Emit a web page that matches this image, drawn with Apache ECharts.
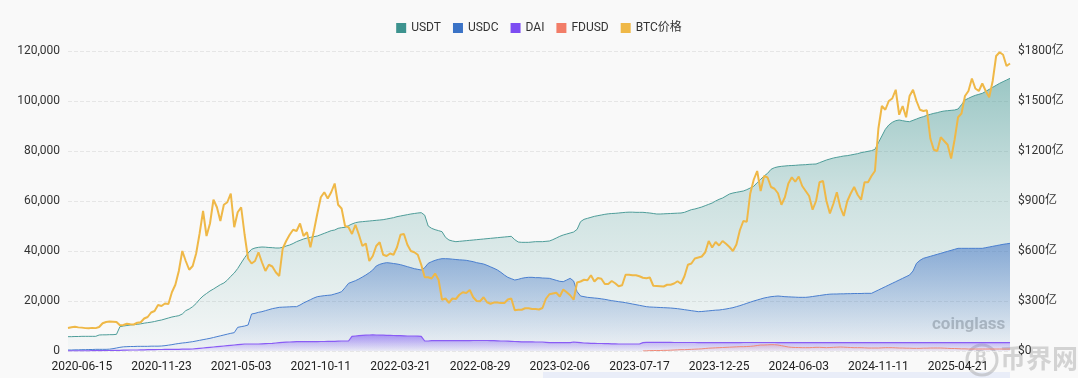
<!DOCTYPE html>
<html>
<head>
<meta charset="utf-8">
<script src="https://cdn.jsdelivr.net/npm/echarts@6/dist/echarts.min.js"></script>
<style>
  html, body { margin: 0; padding: 0; background: #f9f9f9; }
  #chart { width: 1078px; height: 378px; }
</style>
</head>
<body>
<div id="chart"></div>
<script>
// weekly samples, first week 2020-05-18
const startWeek = '2020-05-18'

// BTC price, USD (left axis)
const btc = [
  9200, 9500, 9700, 9450, 9350, 9150, 9100, 9250, 9150, 9600,
  11100, 11600, 11800, 11700, 11600, 10300, 10400, 10900, 10700, 10600,
  11300, 11500, 13000, 13600, 15400, 16000, 18400, 18000, 19000, 18800,
  23500, 26500, 32000, 40000, 36000, 32500, 34000, 39000, 47000, 56000,
  46000, 51000, 60500, 57500, 52000, 58500, 59500, 63000, 49500, 55500,
  57500, 46500, 37000, 35000, 36000, 39500, 35500, 32000, 34500, 33800,
  31500, 30000, 41000, 44000, 46500, 48500, 48000, 51000, 46000, 47500,
  41500, 48000, 55000, 61500, 63500, 61000, 63500, 67000, 58500, 57000,
  50000, 49500, 46800, 50500, 46500, 42000, 43000, 36000, 38000, 42000,
  43500, 38500, 38000, 39000, 38500, 41500, 46500, 46800, 42500, 40000,
  39500, 38500, 34500, 29500, 29500, 29000, 31000, 28500, 20500, 21000,
  19300, 21000, 20800, 22500, 23500, 23200, 24400, 21500, 20000, 19900,
  21500, 19500, 18900, 19400, 19400, 19200, 19200, 20600, 21000, 16300,
  16500, 16500, 17100, 17100, 16800, 16800, 16600, 17200, 20900, 22700,
  23000, 23300, 21800, 24600, 23500, 22300, 20500, 27400, 27800, 28500,
  28300, 30300, 27800, 29200, 28900, 26800, 26800, 28000, 27100, 25900,
  26300, 30500, 30500, 30300, 30300, 29900, 29300, 29100, 29400, 26100,
  26000, 25900, 25800, 26500, 26500, 27000, 27900, 26900, 29900, 34500,
  35000, 37000, 37400, 37800, 39500, 44000, 41400, 43600, 42200, 44000,
  42900, 41600, 40000, 42600, 48300, 52000, 51700, 63000, 68500, 72000,
  64000, 70000, 69400, 65600, 64900, 63100, 58500, 61500, 67000, 69500,
  67700, 69800, 66000, 64000, 62000, 56500, 60000, 67500, 68000, 60000,
  55000, 58900, 63500, 57500, 54000, 59900, 63000, 65600, 62500, 60500,
  67500, 67500, 70000, 72000, 89000, 98000, 96500, 100000, 101000, 104500,
  94500, 98000, 93500, 102000, 104500, 100000, 96500, 96000, 96300, 85000,
  80500, 80000, 85500, 84000, 82500, 77000, 84500, 93500, 95000, 102000,
  104000, 109000, 105000, 104000, 107000, 104000, 101500, 108000, 118000, 119500,
  118500, 114000, 115000
]

// stablecoin market caps, 亿 USD (right axis)
const usdt = [
  86, 86, 87, 87, 88, 88, 88, 88, 88, 96,
  97, 97, 98, 98, 100, 146, 150, 153, 156, 158,
  160, 163, 167, 170, 173, 177, 182, 186, 192, 198,
  204, 208, 212, 222, 242, 252, 266, 285, 310, 330,
  345, 360, 372, 385, 398, 408, 425, 448, 468, 495,
  528, 560, 588, 610, 618, 622, 624, 623, 621, 620,
  618, 618, 622, 630, 636, 645, 656, 664, 672, 678,
  682, 686, 690, 698, 706, 714, 722, 726, 736, 740,
  742, 752, 762, 770, 774, 776, 778, 780, 782, 784,
  786, 788, 792, 796, 800, 806, 810, 814, 818, 822,
  825, 828, 830, 815, 750, 736, 728, 722, 716, 682,
  666, 660, 656, 658, 660, 662, 664, 666, 668, 670,
  672, 674, 676, 678, 680, 682, 684, 686, 688, 668,
  654, 652, 652, 652, 654, 656, 656, 656, 658, 660,
  668, 678, 688, 696, 702, 708, 714, 730, 776, 790,
  796, 802, 808, 812, 816, 820, 823, 825, 826, 828,
  830, 832, 833, 833, 832, 832, 832, 830, 828, 825,
  822, 822, 823, 824, 825, 826, 827, 828, 832, 840,
  848, 852, 858, 864, 872, 880, 888, 900, 910, 918,
  930, 942, 948, 952, 956, 960, 968, 978, 988, 1010,
  1030, 1050, 1066, 1090, 1100, 1105, 1108, 1110, 1112, 1113,
  1114, 1116, 1117, 1118, 1120, 1121, 1122, 1130, 1138, 1146,
  1152, 1158, 1162, 1166, 1170, 1172, 1176, 1180, 1184, 1190,
  1194, 1198, 1202, 1210, 1250, 1290, 1330, 1356, 1372, 1382,
  1386, 1382, 1378, 1376, 1384, 1392, 1400, 1406, 1414, 1420,
  1426, 1430, 1436, 1440, 1442, 1444, 1446, 1452, 1478, 1506,
  1516, 1526, 1534, 1540, 1546, 1558, 1570, 1582, 1594, 1606,
  1616, 1626, 1636
]

const usdc = [
  6, 6, 7, 7, 8, 8, 9, 9, 10, 10,
  10, 10, 11, 14, 18, 22, 25, 26, 27, 27,
  28, 28, 28, 28, 29, 29, 29, 30, 32, 35,
  38, 42, 45, 48, 50, 53, 56, 60, 64, 68,
  72, 76, 81, 86, 91, 96, 101, 106, 110, 142,
  146, 150, 156, 222, 226, 232, 236, 242, 248, 254,
  258, 262, 263, 264, 265, 266, 266, 276, 288, 298,
  308, 318, 326, 329, 332, 334, 336, 342, 348, 356,
  380, 406, 414, 422, 432, 444, 456, 470, 486, 510,
  520, 526, 530, 528, 525, 522, 518, 512, 506, 500,
  494, 490, 486, 500, 526, 536, 544, 550, 554, 554,
  553, 551, 549, 547, 546, 544, 540, 536, 530, 526,
  522, 514, 505, 496, 486, 472, 456, 442, 434, 426,
  430, 436, 440, 442, 442, 440, 440, 438, 437, 436,
  430, 424, 418, 416, 426, 436, 420, 356, 330, 326,
  322, 320, 318, 316, 313, 310, 306, 302, 299, 296,
  293, 290, 286, 282, 278, 274, 270, 266, 264, 263,
  262, 261, 260, 259, 258, 256, 254, 251, 248, 245,
  242, 239, 236, 237, 239, 241, 243, 245, 246, 249,
  252, 256, 260, 266, 272, 279, 286, 293, 300, 306,
  312, 318, 322, 326, 328, 330, 328, 326, 325, 324,
  323, 322, 322, 322, 324, 327, 330, 333, 336, 339,
  341, 342, 342, 343, 343, 344, 344, 345, 345, 345,
  346, 346, 346, 356, 366, 376, 386, 396, 406, 416,
  426, 436, 446, 456, 480, 526, 544, 556, 562, 568,
  574, 580, 586, 592, 598, 604, 610, 616, 616, 616,
  616, 616, 616, 616, 616, 620, 624, 628, 632, 636,
  640, 643, 646
]

const dai = [
  1, 1, 1, 1, 1, 1, 1, 2, 2, 2,
  2, 3, 3, 4, 4, 4, 5, 5, 6, 6,
  6, 7, 7, 8, 8, 8, 9, 9, 10, 10,
  10, 10, 10, 11, 11, 11, 12, 14, 16, 18,
  20, 22, 24, 26, 28, 30, 32, 34, 36, 38,
  40, 42, 42, 42, 42, 42, 43, 44, 45, 46,
  48, 50, 52, 53, 54, 55, 56, 56, 56, 56,
  56, 56, 56, 57, 57, 58, 58, 58, 59, 60,
  60, 60, 88, 90, 92, 94, 95, 96, 97, 96,
  95, 95, 94, 94, 93, 92, 92, 91, 90, 90,
  90, 89, 88, 60, 60, 62, 62, 62, 62, 62,
  62, 62, 62, 62, 62, 62, 62, 63, 63, 63,
  63, 63, 62, 62, 61, 60, 60, 59, 58, 57,
  56, 55, 55, 55, 55, 54, 54, 54, 52, 50,
  50, 50, 50, 50, 50, 50, 54, 52, 50, 48,
  47, 46, 46, 45, 45, 44, 44, 43, 43, 42,
  42, 42, 42, 42, 42, 42, 50, 52, 52, 52,
  52, 52, 52, 52, 52, 51, 51, 51, 51, 51,
  51, 51, 50, 50, 50, 50, 50, 50, 50, 50,
  50, 50, 50, 50, 50, 51, 51, 51, 51, 51,
  51, 51, 51, 51, 51, 50, 50, 50, 50, 50,
  50, 50, 50, 50, 50, 50, 50, 50, 50, 50,
  50, 50, 50, 50, 50, 50, 50, 50, 50, 50,
  50, 50, 50, 50, 50, 50, 50, 50, 50, 50,
  50, 50, 50, 50, 50, 50, 50, 50, 50, 50,
  50, 50, 50, 50, 50, 50, 50, 50, 50, 50,
  50, 50, 50, 50, 50, 50, 50, 50, 50, 50,
  50, 50, 50
]

// FDUSD only exists from week 166 (2023-07-24)
const fdusdStart = 166
const fdusdValues = [
  0, 1, 2, 3,
  3, 3, 4, 4, 5, 6, 7, 8, 8, 9,
  10, 11, 12, 13, 15, 17, 18, 19, 20, 21,
  22, 23, 24, 25, 26, 26, 27, 28, 30, 33,
  36, 36, 37, 38, 38, 36, 32, 28, 24, 22,
  21, 21, 20, 20, 20, 21, 22, 22, 21, 20,
  21, 22, 23, 24, 23, 22, 21, 20, 20, 20,
  19, 18, 18, 18, 18, 19, 20, 20, 20, 19,
  18, 18, 17, 17, 16, 16, 16, 17, 17, 18,
  18, 18, 18, 17, 16, 15, 15, 14, 13, 13,
  12, 12, 12, 12, 12, 12, 12, 12, 12, 12,
  12, 12, 12
]

const leftTicks = { min: 0, max: 120000, interval: 20000 }
const rightTicks = { min: 0, max: 1800, interval: 300 }
const labelEvery = 23
const labelOffset = 4

function pad(n) { return n < 10 ? '0' + n : '' + n }
const weeks = []
{
  const d = new Date(startWeek + 'T00:00:00Z')
  for (let i = 0; i < btc.length; i++) {
    weeks.push(d.getUTCFullYear() + '-' + pad(d.getUTCMonth() + 1) + '-' + pad(d.getUTCDate()))
    d.setUTCDate(d.getUTCDate() + 7)
  }
}
const fdusd = new Array(fdusdStart).fill(null).concat(fdusdValues)

function grad(rgb, stops) {
  return new echarts.graphic.LinearGradient(0, 0, 0, 1,
    stops.map(s => ({ offset: s[0], color: `rgba(${rgb},${s[1]})` })))
}

const FONT = 'Roboto, "Noto Sans CJK SC", sans-serif'
const chart = echarts.init(document.getElementById('chart'), null, { renderer: 'canvas' })

chart.setOption({
  backgroundColor: '#f9f9f9',
  animation: false,
  textStyle: { fontFamily: FONT },
  legend: {
    top: 17,
    left: 'center',
    icon: 'rect',
    itemWidth: 10,
    itemHeight: 10,
    itemGap: 12,
    textStyle: { color: '#333', fontSize: 12, fontFamily: FONT },
    data: ['USDT', 'USDC', 'DAI', 'FDUSD', 'BTC价格']
  },
  grid: { left: 68, right: 68, top: 51, bottom: 27 },
  xAxis: {
    type: 'category',
    boundaryGap: false,
    data: weeks,
    axisLine: { show: false },
    axisTick: { show: false },
    axisLabel: {
      color: '#222',
      fontSize: 12,
      margin: 10,
      interval: (idx) => idx % labelEvery === labelOffset
    }
  },
  yAxis: [
    {
      type: 'value',
      position: 'left',
      min: leftTicks.min,
      max: leftTicks.max,
      interval: leftTicks.interval,
      axisLine: { show: false },
      axisTick: { show: false },
      axisLabel: { color: '#333', fontSize: 12, formatter: v => v.toLocaleString('en-US') },
      splitLine: { lineStyle: { color: '#e6e6e6', type: 'dashed' } }
    },
    {
      type: 'value',
      position: 'right',
      min: rightTicks.min,
      max: rightTicks.max,
      interval: rightTicks.interval,
      axisLine: { show: false },
      axisTick: { show: false },
      axisLabel: { color: '#333', fontSize: 12, formatter: v => v === 0 ? '$0' : '$' + v + '亿' },
      splitLine: { show: false }
    }
  ],
  series: [
    {
      name: 'USDT', type: 'line', yAxisIndex: 1, data: usdt,
      showSymbol: false, color: '#3d938f',
      lineStyle: { width: 1, color: '#4e9d99' },
      areaStyle: { color: grad('64,150,146', [[0, 0.72], [0.4, 0.36], [1, 0.03]]) }
    },
    {
      name: 'USDC', type: 'line', yAxisIndex: 1, data: usdc,
      showSymbol: false, color: '#3b73c6',
      lineStyle: { width: 1, color: '#4a7fcf' },
      areaStyle: { color: grad('59,112,196', [[0, 0.75], [1, 0.04]]) }
    },
    {
      name: 'DAI', type: 'line', yAxisIndex: 1, data: dai,
      showSymbol: false, color: '#7d4df2',
      lineStyle: { width: 1.2, color: '#8a5cf5' },
      areaStyle: { color: grad('130,90,245', [[0, 0.85], [1, 0.08]]) }
    },
    {
      name: 'FDUSD', type: 'line', yAxisIndex: 1, data: fdusd,
      showSymbol: false, color: '#f27d68',
      lineStyle: { width: 1, color: '#f08a78' },
      areaStyle: { color: grad('242,125,104', [[0, 0.25], [1, 0.03]]) }
    },
    {
      name: 'BTC价格', type: 'line', yAxisIndex: 0, data: btc,
      showSymbol: false, color: '#efb847',
      lineStyle: { width: 2, color: '#efb847' },
      z: 5
    }
  ],
  graphic: [
    { type: 'rect', left: 543, top: 372, shape: { width: 467, height: 6 }, style: { fill: '#e9edf8' }, silent: true },
    { type: 'text', left: 932, top: 316, style: { text: 'coinglass', fontSize: 17, fontWeight: 'bold', fill: 'rgba(150,150,150,0.55)', fontFamily: FONT }, silent: true },
    { type: 'circle', shape: { cx: 982, cy: 360, r: 15 }, style: { fill: 'none', stroke: 'rgba(150,150,150,0.4)', lineWidth: 3 }, silent: true },
    { type: 'text', left: 975, top: 350, style: { text: 'B', fontSize: 18, fontWeight: 'bold', fill: 'rgba(150,150,150,0.4)', fontFamily: FONT }, silent: true },
    { type: 'text', left: 1000, top: 345, style: { text: '币界网', fontSize: 26, fontWeight: 'bold', fill: 'rgba(140,140,140,0.35)', fontFamily: '"Noto Sans CJK SC", sans-serif' }, silent: true }
  ]
})
</script>
</body>
</html>
